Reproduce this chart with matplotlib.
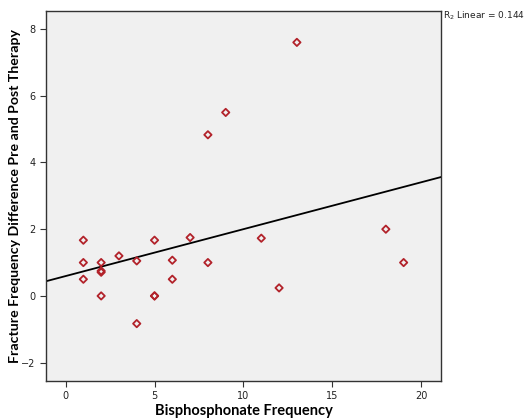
import numpy as np
import matplotlib.pyplot as plt

# Bisphosphonate frequency vs. fracture frequency difference
bisphos_freq = [1, 1, 1, 2, 2, 2, 2, 3, 4, 4, 5, 5, 5, 6, 6, 7, 8, 8, 9, 11, 12, 13, 18, 19]
fracture_diff = [1.67, 1.0, 0.5, 1.0, 0.75, 0.71, 0.0, 1.2, 1.05, -0.83, 1.67, 0.0, 0.0,
                 1.07, 0.5, 1.75, 4.83, 1.0, 5.5, 1.73, 0.24, 7.6, 2.0, 1.0]
x_ticks = [0, 5, 10, 15, 20]
y_ticks = [-2, 0, 2, 4, 6, 8]

x = np.array(bisphos_freq, dtype=float)
y = np.array(fracture_diff, dtype=float)
slope, intercept = np.polyfit(x, y, 1)

fig = plt.figure(figsize=(5.25, 4.19), dpi=100)
ax = fig.add_axes([0.0876, 0.0907, 0.7524, 0.8838])
ax.set_facecolor("#f0f0f0")

ax.scatter(x, y, marker="D", s=14, facecolors="none", edgecolors="#b2222a",
           linewidths=1.3, zorder=3)

# fitted line across the whole plot
xlim = (-1.1, 21.1)
xx = np.array(xlim)
ax.plot(xx, intercept + slope * xx, color="black", linewidth=1.3, zorder=2)

ax.set_xlim(*xlim)
ax.set_ylim(-2.55, 8.55)
ax.set_xticks(x_ticks)
ax.set_yticks(y_ticks)

for side in ["top", "right", "left", "bottom"]:
    ax.spines[side].set_color("#333333")
    ax.spines[side].set_linewidth(1.0)
ax.tick_params(axis="both", direction="out", length=4, width=0.8,
               colors="#333333", labelsize=7, labelcolor="#222222")

ax.set_xlabel("Bisphosphonate Frequency", fontsize=10.5, fontweight="bold",
              family="Lato", va="center")
ax.set_ylabel("Fracture Frequency Difference Pre and Post Therapy",
              fontsize=10.2, fontweight="bold", family="Lato", va="center")
ax.xaxis.set_label_coords(0.5, -0.081)
ax.yaxis.set_label_coords(-0.078, 0.5)

fig.text(0.843, 0.963, "R$_2$ Linear = 0.144", fontsize=6.5, ha="left", va="center",
         color="#222222")

fig.savefig("out.png", dpi=100)
